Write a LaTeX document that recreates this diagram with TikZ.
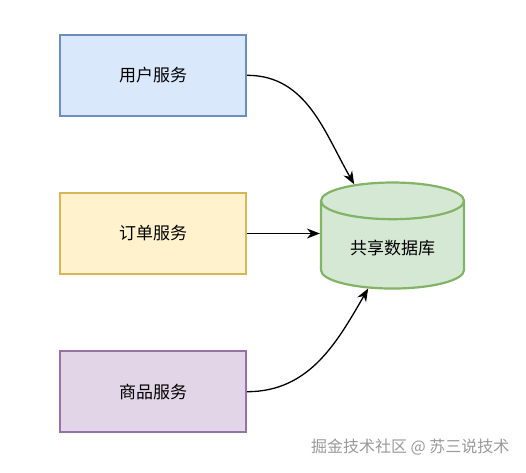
\documentclass[tikz,border=0pt]{standalone}
\usepackage{fontspec}
\usepackage{tikz}
\usetikzlibrary{arrows.meta, shapes.geometric, positioning}
\newfontfamily\cjk{Noto Sans CJK SC}
\definecolor{userfill}{HTML}{DAE8FC}
\definecolor{userline}{HTML}{6C8EBF}
\definecolor{orderfill}{HTML}{FFF2CC}
\definecolor{orderline}{HTML}{D6B656}
\definecolor{goodsfill}{HTML}{E1D5E7}
\definecolor{goodsline}{HTML}{9673A6}
\definecolor{dbfill}{HTML}{D5E8D4}
\definecolor{dbline}{HTML}{82B366}

\begin{document}
\begin{tikzpicture}[x=1pt, y=-1pt,
    svcbox/.style={rectangle, minimum width=186pt, minimum height=81pt, line width=2.2pt,
      font=\cjk\fontsize{17}{20}\selectfont},
    dbshape/.style={cylinder, shape border rotate=90, aspect=0.4, minimum width=143pt,
      minimum height=106pt, line width=2.2pt, fill=dbfill, draw=dbline,
      font=\cjk\fontsize{17}{20}\selectfont},
    link/.style={-{Stealth[length=13pt, width=10pt]}, line width=1.3pt}]
  \useasboundingbox (0,0) rectangle (526,472);
  % Three services on the left
  \node[svcbox, fill=orderfill, draw=orderline] (order) at (153,233.5) {订单服务};
  \node[svcbox, fill=userfill, draw=userline, above=75pt of order] (user) {用户服务};
  \node[svcbox, fill=goodsfill, draw=goodsline, below=75pt of order] (goods) {商品服务};
  % Shared database
  \node[dbshape] (db) at (392.5,248) {共享数据库};
  \draw[link] (user.east) to[out=0, in=120] (db.121);
  \draw[link] (order.east) -- (order.east -| db.west);
  \draw[link] (goods.east) to[out=0, in=240] (db.239);
  \node[anchor=east, text=gray!80, font=\cjk\fontsize{16}{18}\selectfont] (mark) at (513,447)
    {掘金技术社区 @ 苏三说技术};
\end{tikzpicture}
\end{document}
